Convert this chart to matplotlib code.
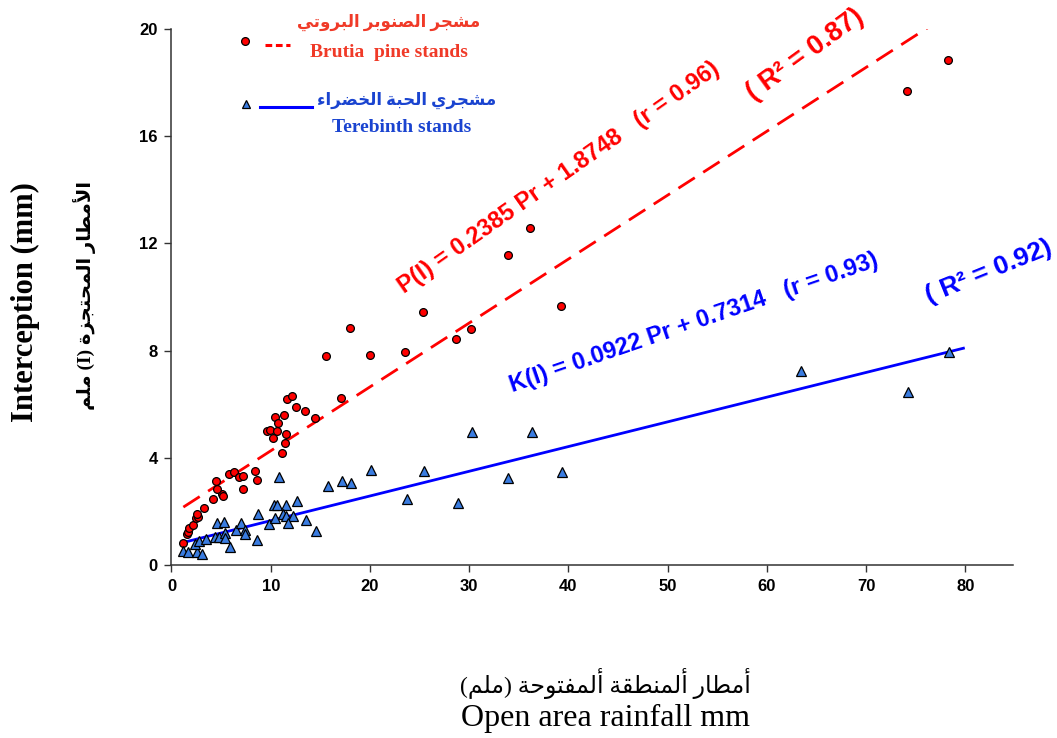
import matplotlib

matplotlib.use("Agg")
import matplotlib.pyplot as plt

# interception vs. open-area rainfall (mm), one point per storm
pine_x = [1.14, 1.54, 1.67, 1.8, 2.2, 2.48, 2.71, 2.55, 3.28, 4.22, 5.13, 5.23, 4.63,
          4.49, 5.8, 6.3, 6.84, 7.24, 7.24, 8.45, 8.59, 9.66, 9.93, 10.6, 10.2, 10.46,
          10.7, 11.37, 11.14, 11.47, 11.5, 11.6, 12.15, 12.55, 13.45, 14.5, 15.57,
          17.05, 18.0, 20.0, 23.55, 25.3, 28.7, 30.2, 33.9, 36.1, 39.3, 74.1, 78.2]
pine_y = [0.83, 1.15, 1.24, 1.37, 1.49, 1.74, 1.80, 1.92, 2.13, 2.48, 2.65, 2.58, 2.83,
          3.14, 3.40, 3.48, 3.29, 3.32, 2.83, 3.52, 3.17, 5.0, 5.04, 4.99, 4.73, 5.54,
          5.29, 5.59, 4.17, 4.54, 4.88, 6.19, 6.29, 5.89, 5.74, 5.49, 7.80,
          6.24, 8.85, 7.85, 7.95, 9.45, 8.44, 8.8, 11.57, 12.58, 9.66, 17.7, 18.83]

tere_x = [1.2, 1.7, 2.6, 3.05, 2.38, 2.81, 3.45, 4.39, 4.76, 4.59, 5.3, 5.4, 5.43, 5.9,
          6.5, 7.0, 7.41, 7.44, 8.59, 8.69, 9.8, 10.46, 10.33, 10.67, 11.5, 10.8, 11.2,
          11.57, 12.28, 11.74, 12.65, 13.6, 14.6, 15.77, 17.2, 18.1, 20.1, 23.7, 25.4,
          28.9, 30.3, 33.9, 36.3, 39.4, 63.4, 74.2, 78.3]
tere_y = [0.52, 0.47, 0.47, 0.41, 0.77, 0.91, 0.96, 1.06, 1.06, 1.58, 1.6, 1.18, 1.0, 0.66,
          1.31, 1.56, 1.31, 1.17, 0.93, 1.89, 1.53, 1.74, 2.23, 2.23, 2.23, 3.3, 1.9,
          1.83, 1.83, 1.56, 2.38, 1.67, 1.27, 2.95, 3.12, 3.07, 3.55, 2.46, 3.52,
          2.32, 4.97, 3.26, 4.97, 3.47, 7.23, 6.47, 7.94]

# fitted lines: slope, intercept, x range
pine_fit = (0.2385, 1.8748, (1.2, 78.5))
tere_fit = (0.0922, 0.7314, (1.2, 79.8))

x_ticks = [0, 10, 20, 30, 40, 50, 60, 70, 80]
y_ticks = [0, 4, 8, 12, 16, 20]

# --- minimal Arabic shaping (matplotlib has no complex text layout) ---
FORMS = {
    "ء": ("\uFE80", None, None, None),
    "أ": ("\uFE83", "\uFE84", None, None),
    "ا": ("\uFE8D", "\uFE8E", None, None),
    "ب": ("\uFE8F", "\uFE90", "\uFE91", "\uFE92"),
    "ة": ("\uFE93", "\uFE94", None, None),
    "ت": ("\uFE95", "\uFE96", "\uFE97", "\uFE98"),
    "ج": ("\uFE9D", "\uFE9E", "\uFE9F", "\uFEA0"),
    "ح": ("\uFEA1", "\uFEA2", "\uFEA3", "\uFEA4"),
    "خ": ("\uFEA5", "\uFEA6", "\uFEA7", "\uFEA8"),
    "ر": ("\uFEAD", "\uFEAE", None, None),
    "ز": ("\uFEAF", "\uFEB0", None, None),
    "ش": ("\uFEB5", "\uFEB6", "\uFEB7", "\uFEB8"),
    "ص": ("\uFEB9", "\uFEBA", "\uFEBB", "\uFEBC"),
    "ض": ("\uFEBD", "\uFEBE", "\uFEBF", "\uFEC0"),
    "ط": ("\uFEC1", "\uFEC2", "\uFEC3", "\uFEC4"),
    "ف": ("\uFED1", "\uFED2", "\uFED3", "\uFED4"),
    "ق": ("\uFED5", "\uFED6", "\uFED7", "\uFED8"),
    "ل": ("\uFEDD", "\uFEDE", "\uFEDF", "\uFEE0"),
    "م": ("\uFEE1", "\uFEE2", "\uFEE3", "\uFEE4"),
    "ن": ("\uFEE5", "\uFEE6", "\uFEE7", "\uFEE8"),
    "و": ("\uFEED", "\uFEEE", None, None),
    "ي": ("\uFEF1", "\uFEF2", "\uFEF3", "\uFEF4"),
}
LAM_ALEF = {"أ": ("\uFEF7", "\uFEF8"), "ا": ("\uFEFB", "\uFEFC")}


def shape(text):
    toks = []
    i = 0
    while i < len(text):
        if text[i] == "ل" and i + 1 < len(text) and text[i + 1] in LAM_ALEF:
            toks.append(("la", text[i + 1]))
            i += 2
        else:
            toks.append(("c", text[i]))
            i += 1

    def joins_next(t):
        return t[0] == "c" and t[1] in FORMS and FORMS[t[1]][2] is not None

    def arabic(t):
        return t[0] == "la" or t[1] in FORMS

    out = []
    for k, t in enumerate(toks):
        prev_joins = k > 0 and joins_next(toks[k - 1])
        if t[0] == "la":
            iso, fin = LAM_ALEF[t[1]]
            out.append(fin if prev_joins else iso)
            continue
        c = t[1]
        if c not in FORMS:
            out.append(c)
            continue
        iso, fin, ini, med = FORMS[c]
        next_joins = ini is not None and k + 1 < len(toks) and arabic(toks[k + 1])
        if prev_joins and next_joins:
            out.append(med)
        elif prev_joins:
            out.append(fin or iso)
        elif next_joins:
            out.append(ini)
        else:
            out.append(iso)
    return "".join(reversed(out)).translate(str.maketrans("()", ")("))


SERIF = ["Liberation Serif", "DejaVu Sans"]
SANS = ["Liberation Sans", "DejaVu Sans"]
RED = "#ff0000"
BLUE = "#0000ff"

fig = plt.figure(figsize=(10.57, 7.38), dpi=100)
ax = fig.add_axes([0.1622, 0.2344, 0.7962, 0.7263])

for fit, color, ls in [(pine_fit, RED, (0, (7, 3.6))), (tere_fit, BLUE, "-")]:
    a, b, (x0, x1) = fit
    ax.plot([x0, x1], [a * x0 + b, a * x1 + b], color=color, lw=2.0, ls=ls, zorder=2)

ax.plot(pine_x, pine_y, "o", ms=5.6, mfc=RED, mec="black", mew=0.9, zorder=3)
ax.plot(tere_x, tere_y, "^", ms=7, mfc="#3a7ce0", mec="black", mew=0.9, zorder=3)

ax.set_xlim(0, 84.8)
ax.set_ylim(0, 20)
ax.set_xticks(x_ticks)
ax.set_yticks(y_ticks)
for s in ["top", "right"]:
    ax.spines[s].set_visible(False)
for s in ["left", "bottom"]:
    ax.spines[s].set_color("#333333")
    ax.spines[s].set_linewidth(1.1)
ax.tick_params(direction="out", length=5, width=1.0, color="#333333", pad=5)
for lab in ax.get_xticklabels() + ax.get_yticklabels():
    lab.set_fontfamily(SANS)
    lab.set_fontweight("bold")
    lab.set_fontsize(12)

# regression equations
ax.text(23.4, 10.1, "P(I) = 0.2385 Pr + 1.8748   (r = 0.96)", color=RED,
        rotation=35, rotation_mode="anchor", ha="left", va="baseline",
        fontsize=17, fontweight="bold", family=SANS)
ax.text(58.6, 17.3, "( R² = 0.87)", color=RED, rotation=36, rotation_mode="anchor",
        ha="left", va="baseline", fontsize=19.5, fontweight="bold", family=SANS)
ax.text(34.4, 6.45, "K(I) = 0.0922 Pr + 0.7314   (r = 0.93)", color=BLUE,
        rotation=19, rotation_mode="anchor", ha="left", va="baseline",
        fontsize=17, fontweight="bold", family=SANS)
ax.text(76.3, 9.75, "( R² = 0.92)", color=BLUE, rotation=22, rotation_mode="anchor",
        ha="left", va="baseline", fontsize=19, fontweight="bold", family=SANS)

# legend keys and labels
tr = ax.transAxes
ax.plot([0.0875], [0.978], "o", ms=5.6, mfc=RED, mec="black", mew=0.9,
        transform=tr, clip_on=False)
ax.plot([0.111, 0.141], [0.971, 0.971], color=RED, lw=2.2, ls=(0, (2.2, 1.2)),
        transform=tr, clip_on=False)
ax.plot([0.0886], [0.860], "^", ms=6, mfc="#3a7ce0", mec="black", mew=0.9,
        transform=tr, clip_on=False)
ax.plot([0.105, 0.167], [0.855, 0.855], color=BLUE, lw=2.2, transform=tr, clip_on=False)

ax.text(0.3667, 1.013, shape("مشجر الصنوبر البروتي"), transform=tr, ha="right",
        va="center", color="#f03a28", fontsize=12, fontweight="bold", family=SERIF)
ax.text(0.1647, 0.957, "Brutia  pine stands", transform=tr, ha="left", va="center",
        color="#f03a28", fontsize=14, fontweight="bold", family=SERIF)
ax.text(0.386, 0.8675, shape("مشجري الحبة الخضراء"), transform=tr, ha="right",
        va="center", color="#1a44d0", fontsize=12, fontweight="bold", family=SERIF)
ax.text(0.191, 0.817, "Terebinth stands", transform=tr, ha="left", va="center",
        color="#1a44d0", fontsize=14, fontweight="bold", family=SERIF)

# axis titles
fig.text(0.0237, 0.591, "Interception (mm)", rotation=90, ha="center", va="center",
         fontsize=22, fontweight="bold", family=SERIF)
fig.text(0.0804, 0.600, shape("الأمطار المحتجزة (I) ملم"), rotation=90, ha="center",
         va="center", fontsize=14, fontweight="bold", family=SERIF)
fig.text(0.5724, 0.0745, shape("أمطار ألمنطقة ألمفتوحة (ملم)"), ha="center",
         va="center", fontsize=17, family=SERIF)
fig.text(0.573, 0.027, "Open area rainfall mm", ha="center", va="center",
         fontsize=23, family=SERIF)

fig.savefig("out.png", dpi=100)
